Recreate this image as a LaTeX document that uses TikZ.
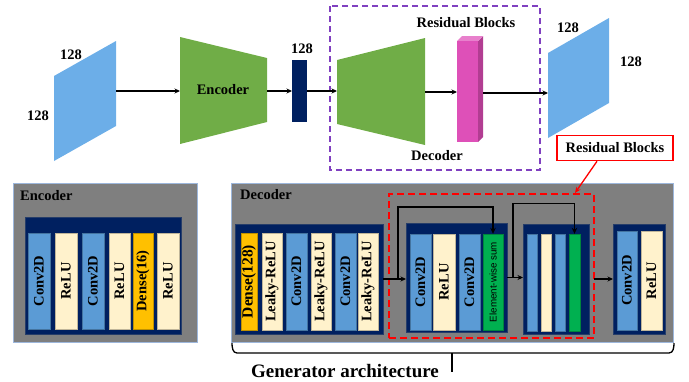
\documentclass[tikz,border=0pt]{standalone}
\usepackage{fontspec}
\setmainfont{Liberation Serif}
\newfontfamily\elsans{Liberation Sans}
\usetikzlibrary{arrows.meta}
\definecolor{lblue}{HTML}{6CAEE8}
\definecolor{tgreen}{HTML}{70AD47}
\definecolor{navy}{HTML}{002060}
\definecolor{pinkf}{HTML}{DE50B8}
\definecolor{pinks}{HTML}{B23D92}
\definecolor{pinkt}{HTML}{E880CC}
\definecolor{panelgray}{HTML}{7F7F7F}
\definecolor{pedge}{HTML}{9DB7DC}
\definecolor{cblue}{HTML}{5B9BD5}
\definecolor{ccream}{HTML}{FFF2CC}
\definecolor{corange}{HTML}{FFC000}
\definecolor{cgreen}{HTML}{00B050}
\definecolor{purp}{HTML}{8040C0}
\newcommand\colnode[7]{% name, fill, x1, x2, y1, y2, text
  \node[col=#2, minimum width={(#6-#5)*1pt}, minimum height={(#4-#3)*1pt}] (#1) at ({(#3+#4)/2},{(#5+#6)/2}) {#7};}
\newcommand\panelnode[6]{% style, name, x1, y1, x2, y2
  \node[#1, minimum width={(#5-#3)*1pt}, minimum height={(#6-#4)*1pt}, inner sep=0pt, outer sep=0pt] (#2) at ({(#3+#5)/2},{(#4+#6)/2}) {};}
\begin{document}
\begin{tikzpicture}[x=1pt,y=-1pt,
  arr/.style={-{Stealth[length=5.5pt,width=5pt]}, line width=1.2pt},
  skip/.style={-{Stealth[length=6pt,width=5.5pt]}, line width=1.6pt},
  lab/.style={font=\fontsize{14.5}{16}\selectfont\bfseries, inner sep=0pt},
  col/.style={fill=#1, draw=#1!75!black, line width=0.4pt, rotate=90, inner sep=0pt, font=\fontsize{14.5}{15}\selectfont\bfseries},
  gpanel/.style={fill=panelgray, draw=pedge, line width=0.5pt},
  npanel/.style={fill=navy, draw=navy!70!gray, line width=0.5pt},
  reddash/.style={draw=red, line width=1.6pt, dash pattern=on 7pt off 4pt}
]
\useasboundingbox (0,0) rectangle (689,381);

% ---------- top row ----------
\fill[lblue] (54,76) -- (116,41) -- (116,126) -- (54,161) -- cycle;
\coordinate (inR) at (116,91);
\node[lab] (in128a) at (71,55) {128};
\node[lab] (in128b) at (38,116) {128};

\fill[tgreen] (180,37) -- (267,58) -- (267,122) -- (180,144) -- cycle;
\coordinate (encL) at (180,91);
\coordinate (encR) at (267,91);
\node[lab] (enc) at (223,90) {Encoder};

\panelnode{fill=navy}{lat}{292}{60}{307}{122}
\node[lab] (lat128) at (302,49) {128};

\draw[purp, line width=1.2pt, dash pattern=on 6pt off 4pt] (330,6) rectangle (540,170);

\fill[tgreen] (337,60) -- (425,38) -- (425,145) -- (337,124) -- cycle;
\coordinate (decL) at (337,91);
\coordinate (decR) at (425,92);
\node[lab] (declab) at (437,156) {Decoder};
\node[lab] (reslab) at (466,23) {Residual Blocks};

\fill[pinks] (478,41) -- (483,36) -- (483,137) -- (478,142) -- cycle;
\fill[pinkt] (457,41) -- (462,36) -- (483,36) -- (478,41) -- cycle;
\panelnode{fill=pinkf}{pink}{457}{41}{478}{142}
\coordinate (pinkR) at (483,93);

\fill[lblue] (548,53) -- (609,18) -- (609,103) -- (548,138) -- cycle;
\coordinate (outL) at (548,93);
\node[lab] (out128a) at (568,28) {128};
\node[lab] (out128b) at (631,62) {128};

\draw[arr] (inR) -- (encL);
\draw[arr] (encR) -- (lat.west |- encR);
\draw[arr] (lat.east |- decL) -- (decL);
\draw[arr] (decR) -- (pink.west |- decR);
\draw[arr] (pinkR) -- (outL);

% ---------- encoder panel ----------
\panelnode{gpanel}{encp}{13}{183}{197}{342}
\node[lab, anchor=west] (encptitle) at (20,196) {Encoder};
\panelnode{npanel}{encn}{25}{217}{181}{334}
\colnode{e1}{cblue}{28}{50}{233}{329}{Conv2D}
\colnode{e2}{ccream}{55}{77}{233}{329}{ReLU}
\colnode{e3}{cblue}{82}{104}{233}{329}{Conv2D}
\colnode{e4}{ccream}{109}{130}{233}{329}{ReLU}
\colnode{e5}{corange}{133}{153}{233}{329}{Dense(16)}
\colnode{e6}{ccream}{157}{179}{233}{329}{ReLU}

% ---------- decoder panel ----------
\panelnode{gpanel}{decp}{231}{183}{673}{342}
\node[lab, anchor=west] (decptitle) at (240,195) {Decoder};

\panelnode{npanel}{n1}{235}{224}{383}{334}
\colnode{d1}{corange}{241}{257}{233}{330}{\fontsize{15.5}{16}\selectfont Dense(128)}
\colnode{d2}{ccream}{262}{282}{233}{330}{Leaky-ReLU}
\colnode{d3}{cblue}{286}{307}{233}{330}{Conv2D}
\colnode{d4}{ccream}{311}{331}{233}{330}{Leaky-ReLU}
\colnode{d5}{cblue}{335}{356}{233}{330}{Conv2D}
\colnode{d6}{ccream}{358}{378}{233}{330}{Leaky-ReLU}

\panelnode{reddash}{rdb}{389}{194}{594}{338}

\panelnode{npanel}{n2}{406}{223}{507}{332}
\colnode{r1}{cblue}{410}{431}{234}{330}{Conv2D}
\colnode{r2}{ccream}{433}{455}{234}{330}{ReLU}
\colnode{r3}{cblue}{459}{480}{234}{330}{Conv2D}
\colnode{r4}{cgreen}{483}{503}{234}{330}{\elsans\mdseries\fontsize{9.8}{11}\selectfont Element-wise sum}

\panelnode{npanel}{n3}{523}{224}{589}{334}
\colnode{s1}{cblue}{527}{537}{234}{331}{}
\colnode{s2}{ccream}{541}{551}{234}{331}{}
\colnode{s3}{cblue}{555}{565}{234}{331}{}
\colnode{s4}{cgreen}{569}{580}{234}{331}{}

\panelnode{npanel}{n4}{613}{224}{665}{334}
\colnode{t1}{cblue}{617}{637}{231}{330}{Conv2D}
\colnode{t2}{ccream}{641}{662}{231}{330}{ReLU}

\draw[arr] (n1.east) -- (n1.east -| n2.west);
\draw[skip] ([xshift=15pt]n1.east) |- ++(0,-72) -| (r4.east);
\draw[arr] (n2.east) -- (n2.east -| n3.west);
\draw[skip] ([xshift=6pt]n2.east) |- ++(0,-74) -| (s4.east);
\draw[arr] (rdb.east |- n4.west) -- (n4.west);

% red callout
\node[lab, draw=red, line width=1.5pt, fill=white, minimum width=116pt, minimum height=25pt] (rbl) at (615,148) {Residual Blocks};
\coordinate (rtip) at (575,193);
\draw[red, line width=1.3pt, -{Stealth[length=6pt,width=5pt]}] ([xshift=-18pt]rbl.south) -- (rtip);

% brace
\draw[line width=1.3pt] (232,343) to[out=-90,in=180] (237,353) -- (669,353) to[out=0,in=-90] (674,343);
\draw[line width=1.3pt] (452,353) -- (452,372);
\node[font=\fontsize{19}{20}\selectfont\bfseries, inner sep=0pt, anchor=base] (gen) at (345,377.5) {Generator architecture};
\end{tikzpicture}
\end{document}
